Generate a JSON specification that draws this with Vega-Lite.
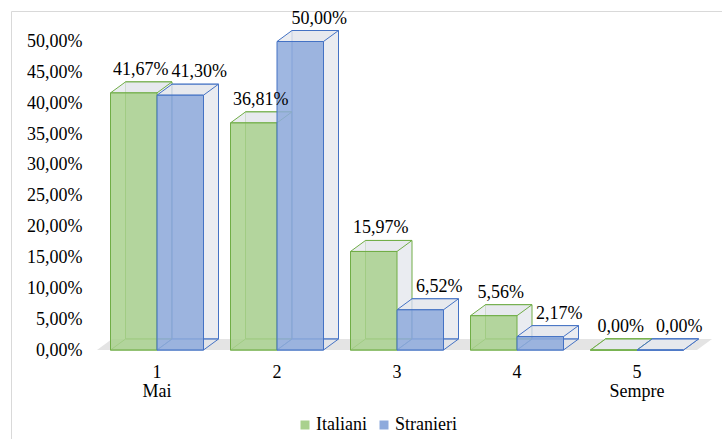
{
  "$schema": "https://vega.github.io/schema/vega-lite/v6.json",
  "width": 711,
  "height": 428,
  "autosize": {"type": "none"},
  "padding": {"left": 11, "top": 11, "right": 0, "bottom": 0},
  "background": "white",
  "config": {
    "locale": {"number": {"decimal": ",", "thousands": ".", "grouping": [3], "currency": ["", " €"]}},
    "view": {"stroke": "#d9d9d9", "strokeWidth": 1},
    "font": "Liberation Serif",
    "axis": {"labelFont": "Liberation Serif", "labelFontSize": 18, "labelColor": "#000000"},
    "legend": {"labelFont": "Liberation Serif", "labelFontSize": 18, "labelColor": "#000000"},
    "text": {"font": "Liberation Serif", "fontSize": 18, "color": "#000000"}
  },
  "resolve": {"scale": {"xOffset": "independent"}},
  "data": {
    "values": [
      {"freq": "1", "gruppo": "Italiani", "quota": 0.4167},
      {"freq": "1", "gruppo": "Stranieri", "quota": 0.4130},
      {"freq": "2", "gruppo": "Italiani", "quota": 0.3681},
      {"freq": "2", "gruppo": "Stranieri", "quota": 0.5000},
      {"freq": "3", "gruppo": "Italiani", "quota": 0.1597},
      {"freq": "3", "gruppo": "Stranieri", "quota": 0.0652},
      {"freq": "4", "gruppo": "Italiani", "quota": 0.0556},
      {"freq": "4", "gruppo": "Stranieri", "quota": 0.0217},
      {"freq": "5", "gruppo": "Italiani", "quota": 0.0},
      {"freq": "5", "gruppo": "Stranieri", "quota": 0.0}
    ]
  },
  "layer": [
    {
      "description": "floor of the 3D plot",
      "data": {"values": [{}]},
      "mark": {"type": "point", "shape": "M-300,0L300,0L315,-11L-285,-11Z", "size": 4, "filled": true, "fill": "#e4e4e4", "strokeWidth": 0, "opacity": 1},
      "encoding": {
        "x": {
          "datum": "3",
          "type": "nominal",
          "scale": {"domain": ["1", "2", "3", "4", "5"], "range": [86, 686], "paddingInner": 0.225, "paddingOuter": 0.1125},
          "axis": {
            "title": null,
            "labelAngle": 0,
            "labelExpr": "datum.value == '1' ? ['1', 'Mai'] : datum.value == '5' ? ['5', 'Sempre'] : datum.value",
            "labelLineHeight": 19,
            "labelPadding": 13,
            "domain": false,
            "ticks": false,
            "offset": -89
          }
        },
        "y": {
          "datum": 0,
          "type": "quantitative",
          "scale": {"domain": [0, 0.5], "range": [339, 30.5], "nice": false},
          "axis": {
            "title": null,
            "format": ".2%",
            "values": [0, 0.05, 0.1, 0.15, 0.2, 0.25, 0.3, 0.35, 0.4, 0.45, 0.5],
            "domain": false,
            "ticks": false,
            "tickSize": 0,
            "grid": false,
            "labelPadding": 15,
            "offset": -86
          }
        }
      }
    },
    {
      "description": "back face of each bar, pushed back in depth",
      "mark": {"type": "bar", "yOffset": -11, "y2Offset": -11, "fill": "#e3e6ec", "fillOpacity": 0.75, "strokeWidth": 1},
      "encoding": {
        "x": {"field": "freq", "type": "nominal"},
        "xOffset": {"field": "gruppo", "type": "nominal", "scale": {"type": "band", "domain": ["Italiani", "Stranieri"], "range": [15, 108], "paddingInner": 0, "paddingOuter": 0}},
        "y": {"field": "quota", "type": "quantitative"},
        "stroke": {"condition": {"test": "datum.gruppo == 'Italiani'", "value": "#70ad47"}, "value": "#4472c4"}
      }
    },
    {
      "description": "bottom face of each bar",
      "mark": {"type": "point", "shape": "M-23.25,0L23.25,0L38.25,-11L-8.25,-11Z", "size": 4, "filled": true, "fill": "#e3e6ec", "fillOpacity": 0.6, "strokeWidth": 1, "opacity": 1},
      "encoding": {
        "x": {"field": "freq", "type": "nominal"},
        "xOffset": {"field": "gruppo", "type": "nominal", "scale": {"type": "band", "domain": ["Italiani", "Stranieri"], "paddingInner": 0, "paddingOuter": 0}},
        "y": {"datum": 0, "type": "quantitative"},
        "stroke": {"condition": {"test": "datum.gruppo == 'Italiani'", "value": "#70ad47"}, "value": "#4472c4"}
      }
    },
    {
      "description": "top face of each bar",
      "mark": {"type": "point", "shape": "M-23.25,0L23.25,0L38.25,-11L-8.25,-11Z", "size": 4, "filled": true, "fill": "#e6e9ee", "fillOpacity": 0.8, "strokeWidth": 1, "opacity": 1},
      "encoding": {
        "x": {"field": "freq", "type": "nominal"},
        "xOffset": {"field": "gruppo", "type": "nominal", "scale": {"type": "band", "domain": ["Italiani", "Stranieri"], "paddingInner": 0, "paddingOuter": 0}},
        "y": {"field": "quota", "type": "quantitative"},
        "stroke": {"condition": {"test": "datum.gruppo == 'Italiani'", "value": "#70ad47"}, "value": "#4472c4"}
      }
    },
    {
      "description": "front face of each bar",
      "mark": {"type": "bar", "fillOpacity": 0.85, "strokeWidth": 1},
      "encoding": {
        "x": {"field": "freq", "type": "nominal"},
        "xOffset": {"field": "gruppo", "type": "nominal", "scale": {"type": "band", "domain": ["Italiani", "Stranieri"], "paddingInner": 0, "paddingOuter": 0}},
        "y": {"field": "quota", "type": "quantitative"},
        "fill": {
          "field": "gruppo",
          "type": "nominal",
          "scale": {"domain": ["Italiani", "Stranieri"], "range": ["#a9d18e", "#8eaadc"]},
          "legend": {
            "title": null,
            "orient": "none",
            "legendX": 285,
            "legendY": 405,
            "direction": "horizontal",
            "symbolType": "square",
            "symbolSize": 81,
            "symbolStrokeWidth": 0,
            "labelOffset": 2,
            "columnPadding": 8
          }
        },
        "stroke": {"condition": {"test": "datum.gruppo == 'Italiani'", "value": "#70ad47"}, "value": "#4472c4"}
      }
    },
    {
      "description": "value labels, first series",
      "transform": [{"filter": "datum.gruppo == 'Italiani'"}],
      "mark": {"type": "text", "baseline": "middle", "align": "center", "dy": -23, "dx": 7},
      "encoding": {
        "x": {"field": "freq", "type": "nominal"},
        "xOffset": {"field": "gruppo", "type": "nominal", "scale": {"type": "band", "domain": ["Italiani", "Stranieri"], "paddingInner": 0, "paddingOuter": 0}},
        "y": {"field": "quota", "type": "quantitative"},
        "text": {"field": "quota", "type": "quantitative", "format": ".2%"}
      }
    },
    {
      "description": "value labels, second series",
      "transform": [{"filter": "datum.gruppo == 'Stranieri'"}],
      "mark": {"type": "text", "baseline": "middle", "align": "center", "dy": -23, "dx": 19},
      "encoding": {
        "x": {"field": "freq", "type": "nominal"},
        "xOffset": {"field": "gruppo", "type": "nominal", "scale": {"type": "band", "domain": ["Italiani", "Stranieri"], "paddingInner": 0, "paddingOuter": 0}},
        "y": {"field": "quota", "type": "quantitative"},
        "text": {"field": "quota", "type": "quantitative", "format": ".2%"}
      }
    }
  ]
}
